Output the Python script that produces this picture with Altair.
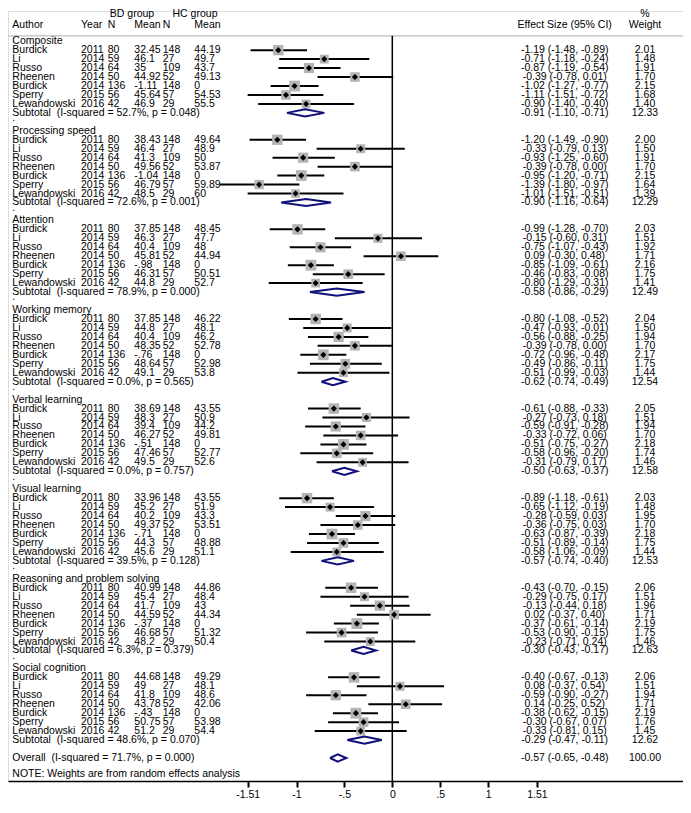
import altair as alt
import pandas as pd

FONT = "Liberation Sans"
FS = 10.5
NAVY = "#10107a"
BOX = "#b4b4b4"

# ---------------- data ----------------
group_names = ["Composite", "Processing speed", "Attention", "Working memory",
               "Verbal learning", "Visual learning", "Reasoning and problem solving",
               "Social cognition"]
i_squared = ["52.7%", "72.6%", "78.9%", "0.0%", "0.0%", "39.5%", "6.3%", "48.6%"]
p_values = ["0.048", "0.001", "0.000", "0.565", "0.757", "0.128", "0.379", "0.070"]

authors = ["Burdick", "Li", "Russo", "Rheenen", "Burdick", "Sperry", "Lewandowski"]
years = ["2011", "2014", "2014", "2014", "2014", "2015", "2016"]
bd_n = ["80", "59", "64", "50", "136", "56", "42"]
hc_n = ["148", "27", "109", "52", "148", "57", "29"]

bd_mean = [
    ["32.45", "46.1", "35", "44.92", "-1.11", "45.64", "46.9"],
    ["38.43", "46.4", "41.3", "49.56", "-1.04", "46.79", "48.5"],
    ["37.85", "46.3", "40.4", "45.81", "-.98", "46.31", "44.8"],
    ["37.85", "44.8", "40.4", "48.35", "-.76", "48.64", "49.1"],
    ["38.69", "48.3", "39.4", "46.27", "-.51", "47.46", "49.5"],
    ["33.96", "45.2", "40.2", "49.37", "-.71", "44.3", "45.6"],
    ["40.99", "45.4", "41.7", "44.59", "-.37", "46.68", "48.2"],
    ["44.68", "49", "41.8", "43.78", "-.43", "50.75", "51.2"],
]
hc_mean = [
    ["44.19", "49.7", "43.7", "49.13", "0", "54.53", "55.5"],
    ["49.64", "48.9", "50", "53.87", "0", "59.89", "60"],
    ["48.45", "47.7", "48", "44.94", "0", "50.51", "52.7"],
    ["46.22", "48.1", "46.2", "52.78", "0", "52.98", "53.8"],
    ["43.55", "50.9", "44.2", "49.81", "0", "52.77", "52.6"],
    ["43.55", "51.9", "43.3", "53.51", "0", "48.88", "51.1"],
    ["44.86", "48.4", "43", "44.34", "0", "51.32", "50.4"],
    ["49.29", "48.1", "48.6", "42.06", "0", "53.98", "54.4"],
]
es = [
    [-1.19, -0.71, -0.87, -0.39, -1.02, -1.11, -0.90],
    [-1.20, -0.33, -0.93, -0.39, -0.95, -1.39, -1.01],
    [-0.99, -0.15, -0.75, 0.09, -0.85, -0.46, -0.80],
    [-0.80, -0.47, -0.56, -0.39, -0.72, -0.49, -0.51],
    [-0.61, -0.27, -0.59, -0.33, -0.51, -0.58, -0.31],
    [-0.89, -0.65, -0.28, -0.36, -0.63, -0.51, -0.58],
    [-0.43, -0.29, -0.13, 0.02, -0.37, -0.53, -0.23],
    [-0.40, 0.08, -0.59, 0.14, -0.38, -0.30, -0.33],
]
ci_lo = [
    [-1.48, -1.18, -1.19, -0.78, -1.27, -1.51, -1.40],
    [-1.49, -0.79, -1.25, -0.78, -1.20, -1.80, -1.51],
    [-1.28, -0.60, -1.07, -0.30, -1.09, -0.83, -1.29],
    [-1.08, -0.93, -0.88, -0.78, -0.96, -0.86, -0.99],
    [-0.88, -0.73, -0.91, -0.72, -0.75, -0.96, -0.79],
    [-1.18, -1.12, -0.59, -0.75, -0.87, -0.89, -1.06],
    [-0.70, -0.75, -0.44, -0.37, -0.61, -0.90, -0.71],
    [-0.67, -0.37, -0.90, -0.25, -0.62, -0.67, -0.81],
]
ci_hi = [
    [-0.89, -0.24, -0.54, 0.01, -0.77, -0.72, -0.40],
    [-0.90, 0.13, -0.60, 0.00, -0.71, -0.97, -0.51],
    [-0.70, 0.31, -0.43, 0.48, -0.61, -0.08, -0.31],
    [-0.52, -0.01, -0.25, 0.00, -0.48, -0.11, -0.03],
    [-0.33, 0.18, -0.28, 0.06, -0.27, -0.20, 0.17],
    [-0.61, -0.19, 0.03, 0.03, -0.39, -0.14, -0.09],
    [-0.15, 0.17, 0.18, 0.40, -0.14, -0.15, 0.24],
    [-0.13, 0.54, -0.27, 0.52, -0.15, 0.07, 0.15],
]
weights = [
    [2.01, 1.48, 1.91, 1.70, 2.15, 1.68, 1.40],
    [2.00, 1.50, 1.91, 1.70, 2.15, 1.64, 1.39],
    [2.03, 1.51, 1.92, 1.71, 2.16, 1.75, 1.41],
    [2.04, 1.50, 1.94, 1.70, 2.17, 1.75, 1.44],
    [2.05, 1.51, 1.94, 1.70, 2.18, 1.74, 1.46],
    [2.03, 1.48, 1.95, 1.70, 2.18, 1.75, 1.44],
    [2.06, 1.51, 1.96, 1.71, 2.19, 1.75, 1.46],
    [2.06, 1.51, 1.94, 1.71, 2.19, 1.76, 1.45],
]
sub_es = [-0.91, -0.90, -0.58, -0.62, -0.50, -0.57, -0.30, -0.29]
sub_lo = [-1.10, -1.16, -0.86, -0.74, -0.63, -0.74, -0.43, -0.47]
sub_hi = [-0.71, -0.64, -0.29, -0.49, -0.37, -0.40, -0.17, -0.11]
sub_wt = ["12.33", "12.29", "12.49", "12.54", "12.58", "12.53", "12.63", "12.62"]

overall = {"es": -0.57, "lo": -0.65, "hi": -0.48, "wt": "100.00",
           "i2": "71.7%", "p": "0.000"}
tick_values = [-1.51, -1, -0.5, 0, 0.5, 1, 1.51]
note_text = "NOTE: Weights are from random effects analysis"

# ---------------- layout constants ----------------
W, H, TOP, BOTTOM = 675, 770, 3, 19
X0, XS = 384.3, 95.8                    # pixel of effect 0 and px per unit
XMIN, XMAX = -X0 / XS, (W - X0) / XS
R0, RS = 30.2, 8.96                     # pixel of row 0 and px per row
RTOP, RBOT = -R0 / RS, (H - R0) / RS
OVERALL_ROW = 80
NOTE_ROW = 81.73
HEAD1, HEAD2, RULE_ROW = -3.04, -1.85, -0.60

xscale = alt.Scale(domain=[XMIN, XMAX], nice=False, zero=False)
yscale = alt.Scale(domain=[RTOP, RBOT], nice=False, zero=False, reverse=True)

label_expr = ("datum.value == -1.51 ? '-1.51' : datum.value == -1 ? '-1' : "
              "datum.value == -0.5 ? '-.5' : datum.value == 0 ? '0' : "
              "datum.value == 0.5 ? '.5' : datum.value == 1 ? '1' : '1.51'")
xaxis = alt.Axis(values=tick_values, labelExpr=label_expr, title=None, grid=False,
                 tickSize=6, tickWidth=2, tickColor="black", domainColor="black",
                 domainWidth=1.5, labelFont=FONT, labelFontSize=FS, labelColor="black",
                 labelPadding=2)


def fmt_es(e, l, h):
    return f"{e:.2f} ({l:.2f}, {h:.2f})"


# ---------------- build tables ----------------
study_rows = []
col_author, col_year, col_bdn, col_bdm, col_hcn, col_hcm, col_es, col_wt = ([] for _ in range(8))
for g in range(8):
    base = g * 10
    col_author.append((base, group_names[g]))
    for i in range(7):
        r = base + 1 + i
        study_rows.append({"row": r, "es": es[g][i], "lo": ci_lo[g][i],
                           "hi": ci_hi[g][i], "w": weights[g][i]})
        col_author.append((r, authors[i]))
        col_year.append((r, years[i]))
        col_bdn.append((r, bd_n[i]))
        col_bdm.append((r, bd_mean[g][i]))
        col_hcn.append((r, hc_n[i]))
        col_hcm.append((r, hc_mean[g][i]))
        col_es.append((r, fmt_es(es[g][i], ci_lo[g][i], ci_hi[g][i])))
        col_wt.append((r, f"{weights[g][i]:.2f}"))
    sr = base + 8
    col_author.append((sr, f"Subtotal\u00a0\u00a0(I-squared = {i_squared[g]}, p = {p_values[g]})"))
    col_es.append((sr, fmt_es(sub_es[g], sub_lo[g], sub_hi[g])))
    col_wt.append((sr, sub_wt[g]))
    if g < 7:
        col_author.append((base + 8.6, "."))

col_author.append((OVERALL_ROW, f"Overall\u00a0\u00a0(I-squared = {overall['i2']}, p = {overall['p']})"))
col_author.append((NOTE_ROW, note_text))
col_es.append((OVERALL_ROW, fmt_es(overall["es"], overall["lo"], overall["hi"])))
col_wt.append((OVERALL_ROW, overall["wt"]))

# header texts
col_author.append((HEAD2, "Author"))
col_year.append((HEAD2, "Year"))
col_bdn.append((HEAD2, "N"))
col_bdm.append((HEAD2, "Mean"))
col_hcn.append((HEAD2, "N"))
col_hcm.append((HEAD2, "Mean"))
col_es.append((HEAD2, "Effect Size (95% CI)"))
col_wt.append((HEAD1, "%"))
col_wt.append((HEAD2, "Weight"))
hdr_bd = [(HEAD1, "BD group")]
hdr_hc = [(HEAD1, "HC group")]

studies = pd.DataFrame(study_rows)

diamond_pts = []
pooled = [(g * 10 + 8, sub_es[g], sub_lo[g], sub_hi[g]) for g in range(8)]
pooled.append((OVERALL_ROW, overall["es"], overall["lo"], overall["hi"]))
HALF = 0.40
for k, (r, e, l, h) in enumerate(pooled):
    verts = [(l, r), (e, r - HALF), (h, r), (e, r + HALF), (l, r)]
    for j, (xv, yv) in enumerate(verts):
        diamond_pts.append({"id": k, "ord": j, "x": xv, "row": yv})
diamonds = pd.DataFrame(diamond_pts)


def text_layer(items, xpx, align):
    df = pd.DataFrame(items, columns=["row", "label"])
    return alt.Chart(df).mark_text(align=align, baseline="middle", font=FONT,
                                   fontSize=FS, color="black").encode(
        x=alt.value(xpx),
        y=alt.Y("row:Q", scale=yscale, axis=None),
        text="label:N",
    )


# ---------------- marks ----------------
header_rule = alt.Chart(pd.DataFrame({"row": [RULE_ROW]})).mark_rule(
    color="#bdbdbd", strokeWidth=1.2).encode(
    x=alt.value(0), x2=alt.value(W), y=alt.Y("row:Q", scale=yscale, axis=None))

zero_line = alt.Chart(pd.DataFrame({"x": [0.0], "r1": [RULE_ROW], "r2": [RBOT]})).mark_rule(
    color="black", strokeWidth=1.5).encode(
    x=alt.X("x:Q", scale=xscale, axis=xaxis),
    y=alt.Y("r1:Q", scale=yscale, axis=None), y2="r2:Q")

boxes = alt.Chart(studies).mark_square(color=BOX, opacity=1).encode(
    x=alt.X("es:Q", scale=xscale, axis=xaxis),
    y=alt.Y("row:Q", scale=yscale, axis=None),
    size=alt.Size("w:Q", scale=alt.Scale(domain=[0, 2.2], range=[0, 118]), legend=None))

ci = alt.Chart(studies).mark_rule(color="black", strokeWidth=2).encode(
    x=alt.X("lo:Q", scale=xscale, axis=xaxis), x2="hi:Q",
    y=alt.Y("row:Q", scale=yscale, axis=None))

points = alt.Chart(studies).mark_point(shape="diamond", filled=True, color="black",
                                       size=38, opacity=1).encode(
    x=alt.X("es:Q", scale=xscale, axis=xaxis),
    y=alt.Y("row:Q", scale=yscale, axis=None))

dia = alt.Chart(diamonds).mark_line(color=NAVY, strokeWidth=2, strokeJoin="miter").encode(
    x=alt.X("x:Q", scale=xscale, axis=xaxis),
    y=alt.Y("row:Q", scale=yscale, axis=None),
    detail="id:N", order="ord:Q")

texts = [
    text_layer(col_author, 4.3, "left"),
    text_layer(col_year, 73, "left"),
    text_layer(col_bdn, 99.7, "left"),
    text_layer(col_bdm, 126.3, "left"),
    text_layer(col_hcn, 154.7, "left"),
    text_layer(col_hcm, 186.3, "left"),
    text_layer(hdr_bd, 124, "center"),
    text_layer(hdr_hc, 187, "center"),
    text_layer(col_es, 556.7, "center"),
    text_layer(col_wt, 637, "center"),
]

chart = alt.layer(header_rule, zero_line, ci, boxes, points, dia, *texts).properties(
    width=W, height=H,
    padding={"left": 0, "right": 0, "top": TOP, "bottom": BOTTOM},
    autosize=alt.AutoSizeParams(type="none"),
).configure_view(stroke=None).configure(background="white")

chart.save("out.html", embed_options={"renderer": "svg", "actions": False})
